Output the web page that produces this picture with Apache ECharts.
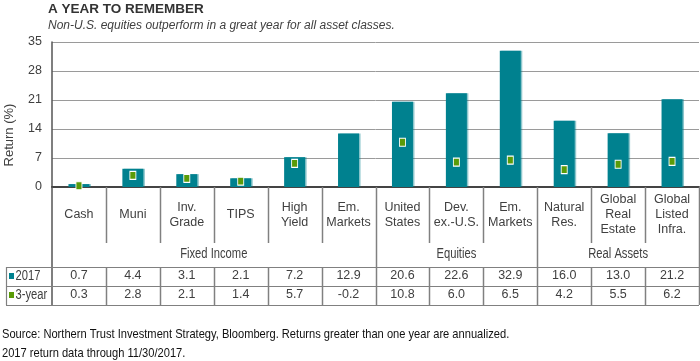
<!DOCTYPE html>
<html><head><meta charset="utf-8">
<script src="https://cdn.jsdelivr.net/npm/echarts@6/dist/echarts.min.js"></script>
<style>html,body{margin:0;padding:0;background:#fff}#c{width:700px;height:361px}</style>
</head><body><div id="c"></div>
<script>
// ---- data ----
const categories = ['Cash', 'Muni', 'Inv.\nGrade', 'TIPS', 'High\nYield', 'Em.\nMarkets',
  'United\nStates', 'Dev.\nex.-U.S.', 'Em.\nMarkets', 'Natural\nRes.', 'Global\nReal\nEstate', 'Global\nListed\nInfra.'];
const groupNames = ['Fixed Income', 'Equities', 'Real Assets'];
const groupSizes = [6, 3, 3];
const seriesNames = ['2017', '3-year'];
const returns2017 = [0.7, 4.4, 3.1, 2.1, 7.2, 12.9, 20.6, 22.6, 32.9, 16.0, 13.0, 21.2];
const returns3yr = [0.3, 2.8, 2.1, 1.4, 5.7, -0.2, 10.8, 6.0, 6.5, 4.2, 5.5, 6.2];
const yTicks = [0, 7, 14, 21, 28, 35];
const titleText = 'A YEAR TO REMEMBER';
const subtitleText = 'Non-U.S. equities outperform in a great year for all asset classes.';
const yAxisTitle = 'Return (%)';
const sourceLines = ['Source: Northern Trust Investment Strategy, Bloomberg. Returns greater than one year are annualized.',
  '2017 return data through 11/30/2017.'];

// ---- style ----
const SANS = '"Liberation Sans",Arial,sans-serif';
const TXT = '#404040';
const TEAL = '#00818f';
const GREEN = '#5a9b08';
const LINE = '#808080';

const chart = echarts.init(document.getElementById('c'), null, { renderer: 'canvas' });
const fmt = v => v.toFixed(1);

chart.setOption({
  animation: false,
  grid: { left: 52, right: 1, top: 42, bottom: 174, containLabel: false },
  xAxis: [
    { type: 'category', data: categories, position: 'bottom',
      axisLine: { show: true, onZero: false, lineStyle: { color: '#444', width: 2 } },
      axisTick: { show: false },
      axisLabel: { interval: 0, margin: 28, verticalAlign: 'middle', lineHeight: 15,
        fontFamily: SANS, fontSize: 12.5, color: TXT } },
    { type: 'category', data: returns2017.map(fmt), position: 'bottom', offset: 0,
      axisLine: { show: false }, axisTick: { show: false }, splitLine: { show: false },
      axisLabel: { interval: 0, margin: 89, verticalAlign: 'middle', fontFamily: SANS, fontSize: 12.5, color: TXT } },
    { type: 'category', data: returns3yr.map(fmt), position: 'bottom', offset: 0,
      axisLine: { show: false }, axisTick: { show: false }, splitLine: { show: false },
      axisLabel: { interval: 0, margin: 108, verticalAlign: 'middle', fontFamily: SANS, fontSize: 12.5, color: TXT } }
  ],
  yAxis: { type: 'value', min: yTicks[0], max: yTicks[yTicks.length - 1], interval: yTicks[1] - yTicks[0],
    axisLine: { show: true, lineStyle: { color: '#555', width: 1.5 } },
    axisTick: { show: false },
    splitLine: { lineStyle: { color: '#9a9a9a', width: 1 } },
    axisLabel: { margin: 10, fontFamily: SANS, fontSize: 12.5, color: TXT } },
  series: [
    { name: seriesNames[0], type: 'bar', data: returns2017, barWidth: 21, z: 2,
      itemStyle: { color: TEAL, shadowColor: 'rgba(0,129,143,0.45)', shadowOffsetX: 1.5, shadowBlur: 0 } },
    { name: seriesNames[1], type: 'scatter', data: returns3yr, symbol: 'rect', symbolSize: [6, 8], clip: true, z: 3,
      itemStyle: { color: GREEN, borderColor: '#ffffff', borderWidth: 1, opacity: 1 } }
  ]
});

// ---- table framework (positions derived from the axes) ----
const n = categories.length;
const c0 = chart.convertToPixel({ xAxisIndex: 0 }, 0);
const band = chart.convertToPixel({ xAxisIndex: 0 }, 1) - c0;
const bounds = [];
for (let i = 0; i <= n; i++) bounds.push(c0 - band / 2 + i * band);
const yZero = chart.convertToPixel({ yAxisIndex: 0 }, 0);
const labelBottom = yZero + 56, row1 = yZero + 80, row2 = yZero + 99, tblBottom = yZero + 118;
const tblLeft = 6;
const groupEdges = [0];
groupSizes.forEach(s => groupEdges.push(groupEdges[groupEdges.length - 1] + s));

const g = [];
const ln = (x1, y1, x2, y2, w, c) => g.push({ type: 'line', silent: true, z: 10,
  shape: { x1, y1, x2, y2 }, style: { stroke: c || LINE, lineWidth: w || 1 } });
const tx = (text, x, y, font, align, extra, fill) => g.push(Object.assign({ type: 'text', x, y, z: 10, silent: true,
  style: { text, font, fill: fill || TXT, textAlign: align || 'left', textVerticalAlign: 'middle' } }, extra || {}));

// vertical dividers
for (let i = 0; i <= n; i++) {
  const x = Math.round(bounds[i]) + 0.5;
  const full = groupEdges.includes(i);
  if (i === 0) { ln(x - 0.5, yZero, x - 0.5, tblBottom, 1.5, '#555'); continue; }
  if (full) ln(x, yZero, x, tblBottom, 1.5);
  else { ln(x, yZero, x, labelBottom, 1.5); ln(x, row1, x, tblBottom, 1.5); }
}
// horizontal rules
[row1, row2, tblBottom].forEach(y => ln(tblLeft, Math.round(y) + 0.5, bounds[n], Math.round(y) + 0.5, 1.2));
ln(tblLeft + 0.5, row1, tblLeft + 0.5, tblBottom, 1.2);
// group labels (narrow look)
groupNames.forEach((name, k) => tx(name, (bounds[groupEdges[k]] + bounds[groupEdges[k + 1]]) / 2, yZero + 67,
  '14px ' + SANS, 'center', { scaleX: 0.8 }));
// row headers
g.push({ type: 'rect', z: 10, shape: { x: 9, y: row1 + 6, width: 5, height: 6 }, style: { fill: TEAL } });
g.push({ type: 'rect', z: 10, shape: { x: 9, y: row2 + 6, width: 5, height: 6 }, style: { fill: GREEN } });
tx(seriesNames[0], 15.5, (row1 + row2) / 2, '14px ' + SANS, 'left', { scaleX: 0.8 });
tx(seriesNames[1], 15.5, (row2 + tblBottom) / 2, '14px ' + SANS, 'left', { scaleX: 0.8 });
// titles
tx(titleText, 48, 9, 'bold 13.5px ' + SANS, 'left', null, '#333');
tx(subtitleText, 48, 26, 'italic 12px ' + SANS, 'left');
tx(yAxisTitle, 9, 135, '13px ' + SANS, 'center', { rotation: Math.PI / 2 });
tx(sourceLines[0], 2, 334, '13px ' + SANS, 'left', { scaleX: 0.855 }, '#111');
tx(sourceLines[1], 2, 353, '13px ' + SANS, 'left', { scaleX: 0.855 }, '#111');

chart.setOption({ graphic: { elements: g } });
</script>
</body></html>
